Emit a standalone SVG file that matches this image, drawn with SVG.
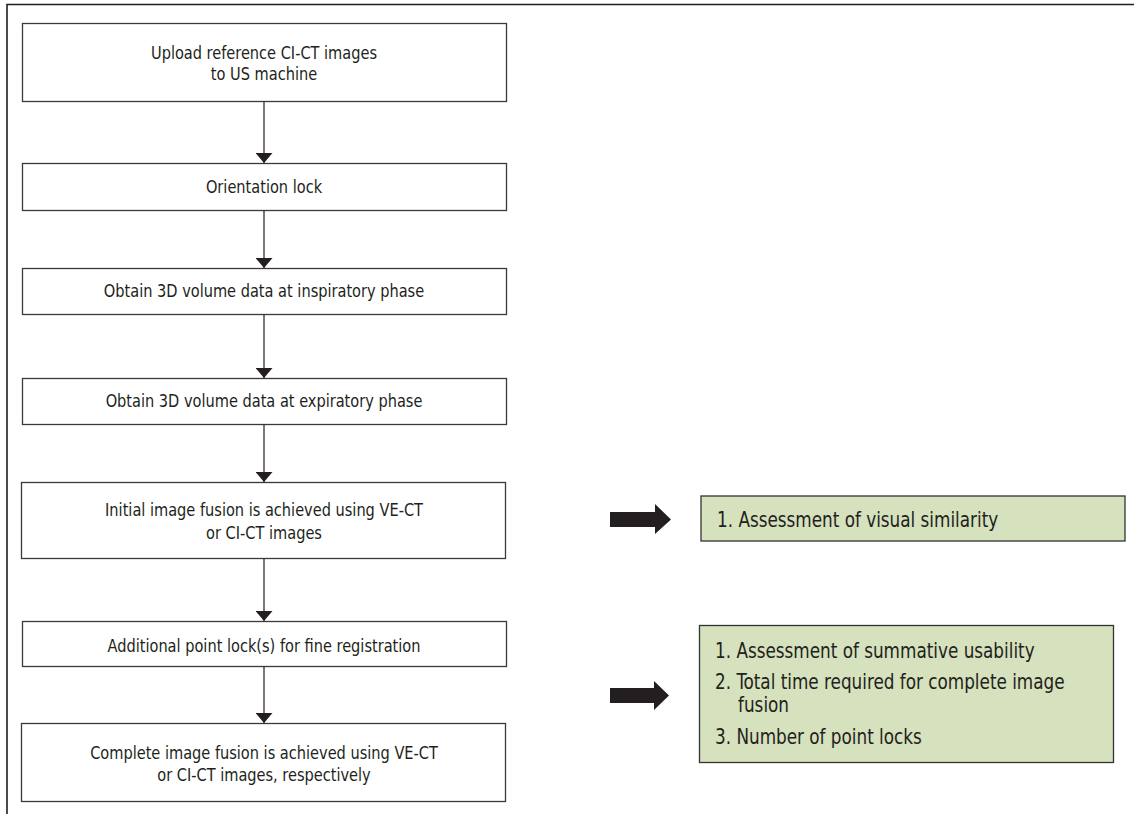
<svg xmlns="http://www.w3.org/2000/svg" width="1134" height="814" viewBox="0 0 1134 814">
<defs>
<style>
.box{fill:#fff;stroke:#3a3a3a;stroke-width:1.3}
.gbox{fill:#d6e1bd;stroke:#333;stroke-width:1.3}
.t{font-family:"Liberation Sans Narrow","DejaVu Sans Condensed","Liberation Sans",sans-serif;font-size:18.5px;fill:#231f20}
.g{font-size:20.8px}
.c{text-anchor:middle}
.ln{stroke:#231f20;stroke-width:1.2;fill:none}
.big{fill:#231f20}
</style>
<marker id="ah" viewBox="0 0 10 17" refX="10" refY="8.5" markerWidth="10" markerHeight="17" markerUnits="userSpaceOnUse" orient="auto">
<path d="M0,0 L10,8.5 L0,17 Z" fill="#231f20"/>
</marker>
</defs>
<rect width="1134" height="814" fill="#fff"/>
<path d="M7,814 V4.5 H1134" fill="none" stroke="#231f20" stroke-width="1.6"/>
<g id="n1"><rect class="box" x="22.5" y="23.5" width="484" height="78"/>
<g transform="translate(264 0) scale(0.875 1)"><text class="t c" x="0" y="59.5">Upload reference CI-CT images</text>
<text class="t c" x="0" y="80.5">to US machine</text></g></g>
<g id="n2"><rect class="box" x="22.5" y="163.5" width="484" height="47"/>
<g transform="translate(264 0) scale(0.875 1)"><text class="t c" x="0" y="193">Orientation lock</text></g></g>
<g id="n3"><rect class="box" x="22.5" y="268.5" width="484" height="46"/>
<g transform="translate(264 0) scale(0.875 1)"><text class="t c" x="0" y="297.5">Obtain 3D volume data at inspiratory phase</text></g></g>
<g id="n4"><rect class="box" x="22.5" y="378.5" width="484" height="46"/>
<g transform="translate(264 0) scale(0.875 1)"><text class="t c" x="0" y="407.5">Obtain 3D volume data at expiratory phase</text></g></g>
<g id="n5"><rect class="box" x="21.5" y="482.5" width="484" height="76"/>
<g transform="translate(264 0) scale(0.875 1)"><text class="t c" x="0" y="516.5">Initial image fusion is achieved using VE-CT</text>
<text class="t c" x="0" y="539">or CI-CT images</text></g></g>
<g id="n6"><rect class="box" x="22.5" y="621.5" width="484" height="45"/>
<g transform="translate(264 0) scale(0.875 1)"><text class="t c" x="0" y="652">Additional point lock(s) for fine registration</text></g></g>
<g id="n7"><rect class="box" x="21.5" y="723.5" width="484" height="78"/>
<g transform="translate(264 0) scale(0.875 1)"><text class="t c" x="0" y="759">Complete image fusion is achieved using VE-CT</text>
<text class="t c" x="0" y="781">or CI-CT images, respectively</text></g></g>
<g id="g1"><rect class="gbox" x="701" y="496" width="424" height="45"/>
<g transform="translate(717 0) scale(0.9 1)"><text class="t g" x="0" y="527">1. Assessment of visual similarity</text></g></g>
<g id="g2"><rect class="gbox" x="699.5" y="625.5" width="414" height="137"/>
<g transform="translate(715 0) scale(0.9 1)"><text class="t g" x="0" y="658">1. Assessment of summative usability</text>
<text class="t g" x="0" y="689">2. Total time required for complete image</text>
<text class="t g" x="25.6" y="712">fusion</text>
<text class="t g" x="0" y="744">3. Number of point locks</text></g></g>
<g id="connectors">
<line class="ln" x1="264" y1="101.5" x2="264" y2="163" marker-end="url(#ah)"/>
<line class="ln" x1="264" y1="210.5" x2="264" y2="268" marker-end="url(#ah)"/>
<line class="ln" x1="264" y1="314.5" x2="264" y2="378" marker-end="url(#ah)"/>
<line class="ln" x1="264" y1="424.5" x2="264" y2="482" marker-end="url(#ah)"/>
<line class="ln" x1="264" y1="558.5" x2="264" y2="621" marker-end="url(#ah)"/>
<line class="ln" x1="264" y1="666.5" x2="264" y2="723" marker-end="url(#ah)"/>
<path class="big" d="M610,512 H655 V504 L671,519.5 L655,534 V527 H610 Z"/>
<path class="big" d="M610,688 H654 V681 L669,695.5 L654,710 V703 H610 Z"/>
</g>
</svg>
